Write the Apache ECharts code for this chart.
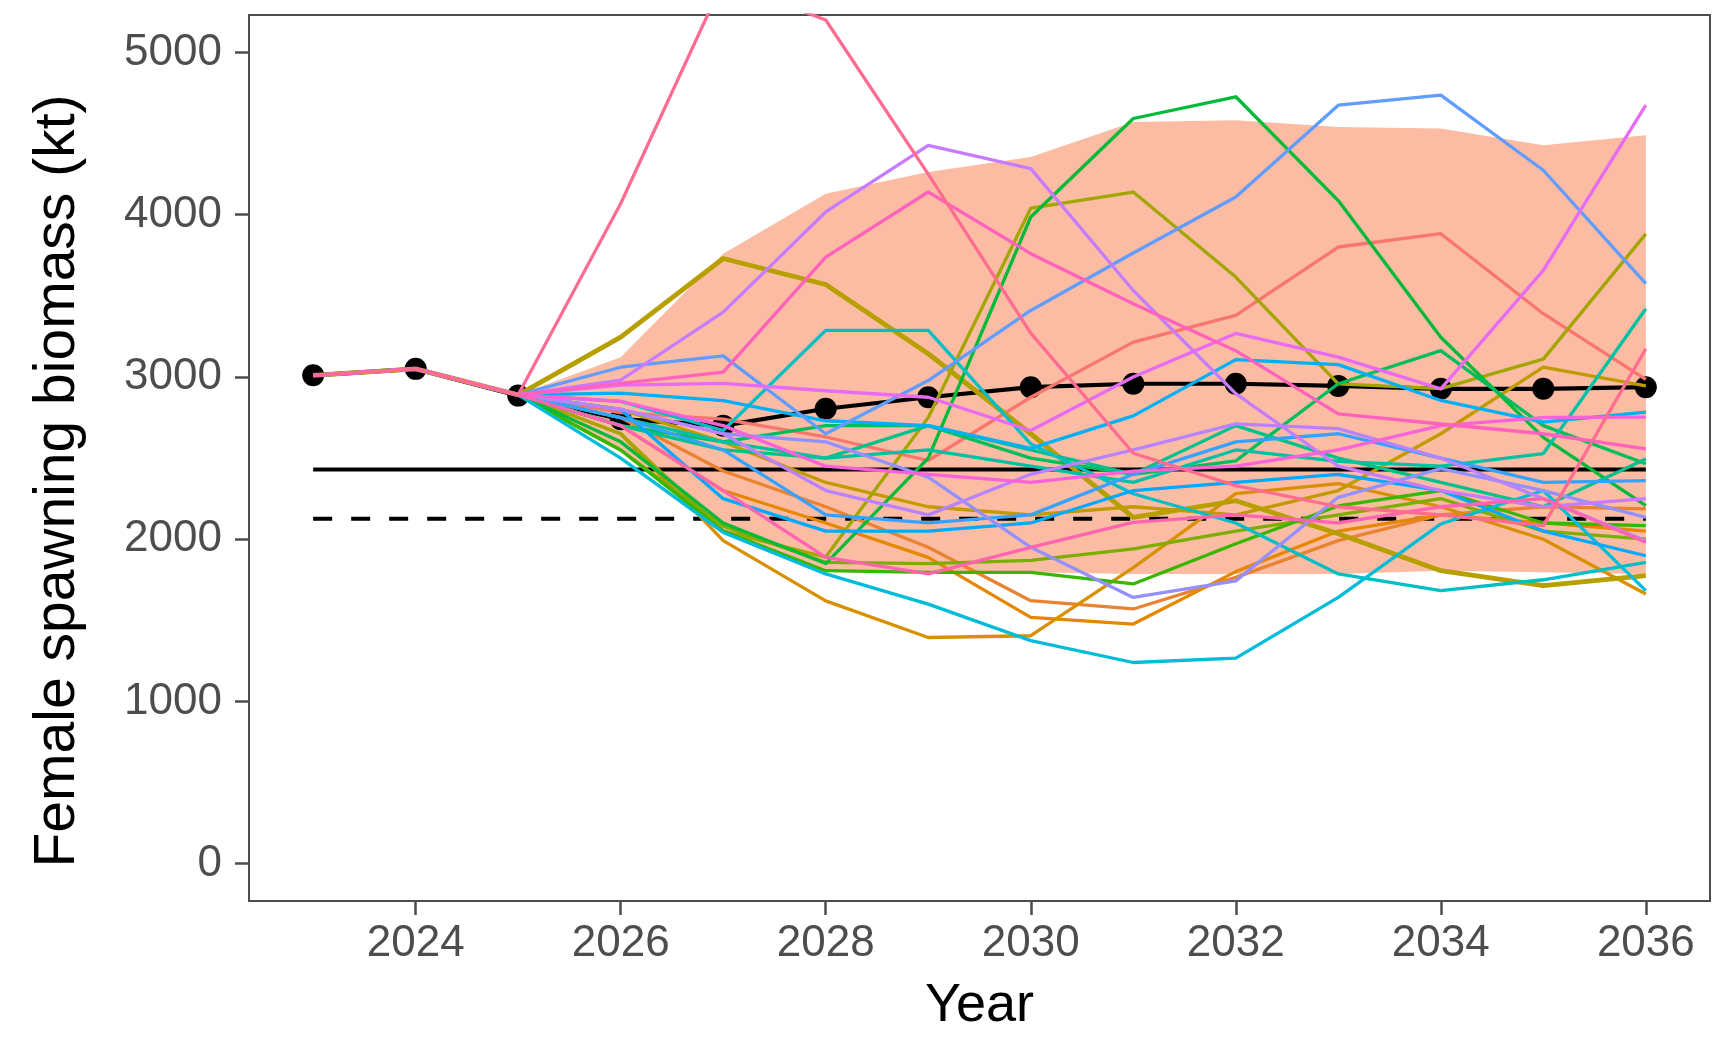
<!DOCTYPE html>
<html>
<head>
<meta charset="utf-8">
<script src="https://cdn.jsdelivr.net/npm/echarts@6/dist/echarts.min.js"></script>
<style>
html,body{margin:0;padding:0;background:#fff;}
#chart{width:1729px;height:1038px;}
</style>
</head>
<body>
<div id="chart"></div>
<script>
// ---------- data ----------
const YEARS = [2023,2024,2025,2026,2027,2028,2029,2030,2031,2032,2033,2034,2035,2036];
const X_TICKS = [2024,2026,2028,2030,2032,2034,2036];
const Y_TICKS = [0,1000,2000,3000,4000,5000];

const MEAN = [3010,3050,2885,2740,2700,2804,2875,2937,2958,2958,2945,2927,2927,2937];
const REF_SOLID = 2429;
const REF_DASHED = 2126;

const BAND_YEARS = [2025,2026,2027,2028,2029,2030,2031,2032,2033,2034,2035,2036];
const BAND_UPPER = [2890,3122,3760,4130,4264,4356,4572,4583,4541,4531,4428,4490];
const BAND_LOWER = [2890,2560,2050,1806,1796,1796,1786,1786,1786,1806,1796,1786];

// simulated trajectories (2023..2036)
const SIM_01 = [3010,3050,2890,2780,2740,2630,2485,2875,3215,3380,3801,3883,3390,2985];
const SIM_02 = [3010,3050,2890,2750,2420,2200,1950,1621,1570,1765,1991,2150,2200,2187];
const SIM_03 = [3010,3050,2890,2700,2300,2100,1888,1518,1477,1800,2050,2150,2100,2050];
const SIM_04 = [3010,3050,2890,2650,1991,1620,1394,1405,1825,2281,2343,2200,2000,1662];
const SIM_05 = [3010,3050,2890,2800,2600,2350,2200,2150,2200,2150,2300,2650,3060,2945];
const SIM_06 = [3010,3050,2890,3245,3730,3570,3143,2650,2135,2237,2034,1806,1714,1775];
const SIM_07 = [3010,3050,2890,2650,2050,1890,2750,4040,4140,3616,2958,2928,3110,3882];
const SIM_08 = [3010,3050,2890,2550,2080,1857,1850,1870,1940,2050,2150,2250,2050,2000];
const SIM_09 = [3010,3050,2890,2550,2050,1806,1795,1795,1724,1972,2205,2300,2100,2084];
const SIM_10 = [3010,3050,2890,2600,2100,1850,2500,3986,4593,4727,4087,3245,2628,2207];
const SIM_11 = [3010,3050,2890,2700,2600,2700,2700,2500,2400,2483,2958,3162,2700,2465];
const SIM_12 = [3010,3050,2890,2700,2550,2500,2700,2550,2400,2700,2500,2350,2200,2495];
const SIM_13 = [3010,3050,2890,2750,2600,2500,2550,2450,2350,2550,2480,2450,2528,3420];
const SIM_14 = [3010,3050,2890,2850,2670,3287,3287,2587,2280,2100,1786,1683,1750,1857];
const SIM_15 = [3010,3050,2890,2500,2042,1786,1600,1375,1240,1267,1641,2094,2300,1683];
const SIM_16 = [3010,3050,2890,2900,2854,2730,2700,2560,2760,3107,3076,2855,2721,2783];
const SIM_17 = [3010,3050,2890,2800,2250,2050,2050,2100,2300,2350,2400,2300,2050,1898];
const SIM_18 = [3010,3050,2890,2750,2550,2150,2100,2150,2400,2600,2650,2500,2350,2361];
const SIM_19 = [3010,3050,2890,3060,3130,2650,2978,3410,3764,4109,4675,4737,4274,3575];
const SIM_20 = [3010,3050,2890,2800,2650,2600,2382,1950,1641,1743,2258,2435,2300,2135];
const SIM_21 = [3010,3050,2890,2800,2650,2300,2150,2400,2550,2711,2682,2500,2250,1990];
const SIM_22 = [3010,3050,2890,2980,3400,4017,4428,4284,3533,2897,2450,2300,2200,2250];
const SIM_23 = [3010,3050,2890,2950,2960,2915,2875,2670,3000,3268,3122,2927,3657,4675];
const SIM_24 = [3010,3050,2890,2850,2700,2450,2400,2350,2420,2450,2550,2700,2750,2752];
const SIM_25 = [3010,3050,2890,2960,3030,3739,4140,3760,3451,3162,2772,2710,2650,2557];
const SIM_26 = [3010,3050,2890,2700,2300,1888,1786,1950,2104,2150,2100,2200,2250,1981];
const SIM_27 = [3010,3050,2890,4069,5440,5200,4250,3270,2530,2330,2200,2150,2084,3174];

const SIMS = [SIM_01,SIM_02,SIM_03,SIM_04,SIM_05,SIM_06,SIM_07,SIM_08,SIM_09,SIM_10,
              SIM_11,SIM_12,SIM_13,SIM_14,SIM_15,SIM_16,SIM_17,SIM_18,SIM_19,SIM_20,
              SIM_21,SIM_22,SIM_23,SIM_24,SIM_25,SIM_26,SIM_27];

// ---------- styles ----------
const SIM_COLORS = ['#F8766D','#EA8331','#E58700','#D89000','#C09B00','#B79F00','#A3A500','#7CAE00','#39B600','#00BA38',
                    '#00BD5C','#00C08B','#00C1A3','#00BFC4','#00BCD8','#00B0F6','#00A9FF','#35A2FF','#619CFF','#9590FF',
                    '#B983FF','#C77CFF','#E76BF3','#FA62DB','#FF62BC','#FF64B0','#FF6C91'];
const SIM_WIDTHS = SIMS.map((s,i)=> i===5 ? 4.8 : 3.3);
const FONT = '"Liberation Sans", Arial, Helvetica, sans-serif';

const chart = echarts.init(document.getElementById('chart'), null, {renderer:'canvas'});

const series = [];
// ribbon
series.push({
  type:'custom',
  silent:true,
  z:1,
  data:[[BAND_YEARS[0], BAND_UPPER[0]]],
  encode:{x:0,y:1},
  renderItem:function(params, api){
    const pts = [];
    for (let i=0;i<BAND_YEARS.length;i++) pts.push(api.coord([BAND_YEARS[i], BAND_UPPER[i]]));
    for (let i=BAND_YEARS.length-1;i>=0;i--) pts.push(api.coord([BAND_YEARS[i], BAND_LOWER[i]]));
    return {type:'polygon', shape:{points:pts}, style:{fill:'#FBBCA3'}};
  }
});
// reference lines
series.push({
  type:'line', silent:true, z:2, showSymbol:false, symbol:'none',
  data:[[YEARS[0],REF_SOLID],[YEARS[YEARS.length-1],REF_SOLID]],
  lineStyle:{color:'#000',width:4}
});
series.push({
  type:'line', silent:true, z:2, showSymbol:false, symbol:'none',
  data:[[YEARS[0],REF_DASHED],[YEARS[YEARS.length-1],REF_DASHED]],
  lineStyle:{color:'#000',width:4,type:[19,19]}
});
// mean
series.push({
  type:'line', silent:true, z:3,
  data:YEARS.map((y,i)=>[y,MEAN[i]]),
  symbol:'circle', symbolSize:22, showSymbol:true,
  itemStyle:{color:'#000'},
  lineStyle:{color:'#000',width:4.2}
});
// simulations
SIMS.forEach((s,k)=>{
  series.push({
    type:'line', silent:true, z:4, symbol:'none', showSymbol:false, clip:true,
    data:YEARS.map((y,i)=>[y,s[i]]),
    lineStyle:{color:SIM_COLORS[k], width:SIM_WIDTHS[k], join:'round'}
  });
});

chart.setOption({
  animation:false,
  backgroundColor:'#fff',
  grid:{left:249,right:19,top:15,bottom:137,show:true,borderColor:'#4d4d4d',borderWidth:2,
        backgroundColor:'#fff',containLabel:false,outerBoundsMode:'none'},
  graphic:[{
    type:'text', x:58, y:481, rotation:Math.PI/2, silent:true,
    style:{text:'Female spawning biomass (kt)', fontSize:57, fill:'#000', fontFamily:FONT,
           align:'center', verticalAlign:'middle'}
  }],
  xAxis:{
    type:'value', min:2022.374, max:2036.626,
    axisLine:{show:false,onZero:false}, splitLine:{show:false},
    axisTick:{show:true, customValues:X_TICKS, length:14, lineStyle:{color:'#4d4d4d',width:2.5}},
    axisLabel:{customValues:X_TICKS, fontSize:44, color:'#4d4d4d', margin:21, fontFamily:FONT,
               formatter:function(v){return String(v);}},
    name:'Year', nameLocation:'middle', nameGap:78,
    nameTextStyle:{fontSize:54, color:'#000', fontFamily:FONT}
  },
  yAxis:{
    type:'value', min:-230, max:5231,
    axisLine:{show:false,onZero:false}, splitLine:{show:false},
    axisTick:{show:true, customValues:Y_TICKS, length:14, lineStyle:{color:'#4d4d4d',width:2.5}},
    axisLabel:{customValues:Y_TICKS, fontSize:44, color:'#4d4d4d', margin:27, fontFamily:FONT,
               formatter:function(v){return String(v);}}
  },
  series:series
});
</script>
</body>
</html>
